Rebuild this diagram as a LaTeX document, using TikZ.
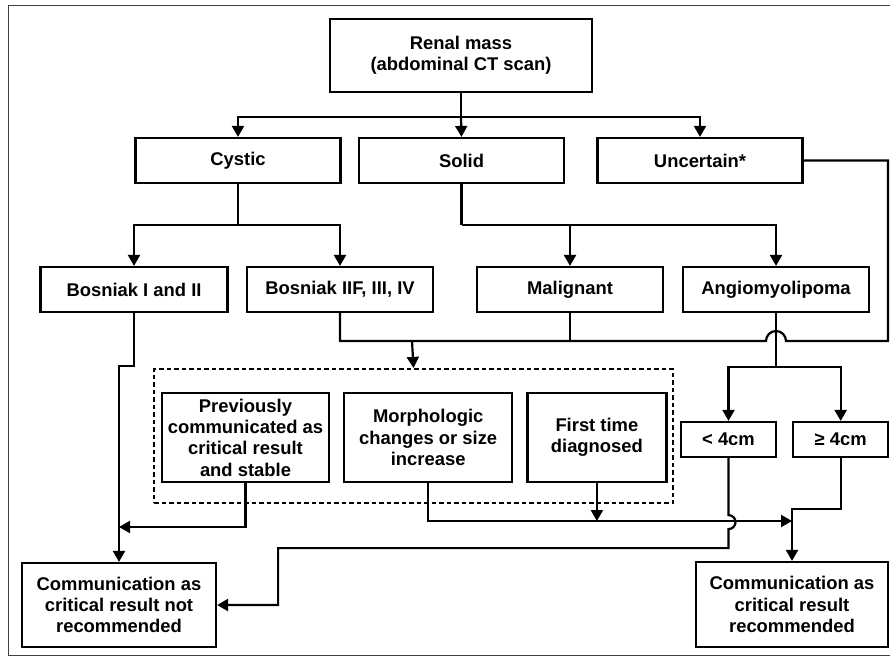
\documentclass[tikz,border=0pt]{standalone}
\usepackage{fontspec}
\setmainfont{Liberation Sans}
\usetikzlibrary{arrows.meta,positioning}

\begin{document}
\begin{tikzpicture}[
  x=1pt, y=-1pt, >={Triangle[length=11pt,width=12pt]},
  line width=2.2pt, node distance=13pt,
  box/.style={draw, line width=2.2pt, align=center, inner sep=2pt,
              font=\fontsize{18.4}{21.3}\selectfont\bfseries},
  grp/.style={draw, line width=2.2pt, dash pattern=on 4.5pt off 3pt}]
\useasboundingbox (0,0) rectangle (890,656);
\draw[line width=1pt, black!75] (890,5) -- (8,5) -- (8,655) -- (890,655);

% top level
\node[box, minimum width=262pt, minimum height=73pt] (renal) at (461,55.5) {Renal mass\\(abdominal CT scan)};
\node[box, minimum width=205pt, minimum height=45pt] (cystic) at (238,160.5) {Cystic};
\node[box, minimum width=205pt, minimum height=45pt] (solid) at (461.5,160.5) {Solid};
\node[box, minimum width=205pt, minimum height=45pt] (uncertain) at (700,160.5) {Uncertain*};

% second level
\node[box, minimum width=187pt, minimum height=45pt] (bos12) at (134,289.5) {Bosniak I and II};
\node[box, minimum width=186pt, minimum height=45pt] (bos3) at (340,289.5) {Bosniak IIF, III, IV};
\node[box, minimum width=186pt, minimum height=45pt] (malig) at (570,289.5) {Malignant};
\node[box, minimum width=186pt, minimum height=45pt] (angio) at (776,289.5) {Angiomyolipoma};

% dashed group
\node[grp, minimum width=519pt, minimum height=134pt] (group) at (413.5,436) {};
\node[box, minimum width=167pt, minimum height=89pt] (prev) at (245.5,437.5) {Previously\\communicated as\\critical result\\and stable};
\node[box, minimum width=168pt, minimum height=89pt, right=of prev] (morph) {Morphologic\\changes or size\\increase};
\node[box, minimum width=139pt, minimum height=89pt, right=of morph] (first) {First time\\diagnosed};

% size
\node[box, minimum width=95pt, minimum height=35pt] (lt4) at (728.5,439.5) {< 4cm};
\node[box, minimum width=95pt, minimum height=35pt, right=15pt of lt4] (ge4) {≥ 4cm};

% outcomes
\node[box, minimum width=194pt, minimum height=84pt] (notrec) at (119,605) {Communication as\\critical result not\\recommended};
\node[box, minimum width=192pt, minimum height=85pt] (rec) at (792,604.5) {Communication as\\critical result\\recommended};

% connectors
\coordinate (split1) at (461,117);
\draw (renal.south) -- (split1);
\draw[->] (split1) -| (cystic.north);
\draw[->] (split1) -- (solid.north);
\draw[->] (split1) -| (uncertain.north);

\draw (cystic.south) -- ++(0,41) coordinate (split2);
\draw[->] (split2) -| (bos12.north);
\draw[->] (split2) -| (bos3.north);

\draw (solid.south) -- ++(0,41) coordinate (split3);
\draw[->] (split3) -| (malig.north);
\draw[->] (split3) -| (angio.north);

\coordinate (merge) at (412,341);
\coordinate (edge) at (888,341);
\draw (uncertain.east) -| (edge) -- (786,341)
  arc[start angle=0, end angle=180, radius=10pt] -- (bos3.south |- merge) -- (bos3.south);
\draw (malig.south) -- (malig.south |- merge);
\draw[->] (merge) -- (group.north);

\draw (angio.south) -- ++(0,54) coordinate (split4);
\draw[->] (split4) -| (lt4.north);
\draw[->] (split4) -| (ge4.north);

\coordinate (join1) at (119,527);
\draw[->] (bos12.south) -- ++(0,53) -| (notrec.north);
\draw[->] (prev.south) |- (join1);

\coordinate (join2) at (792,521);
\draw[->] (morph.south) |- (join2);
\draw[->] (first.south) -- (first.south |- join2);
\draw[->] (ge4.south) -- ++(0,51) -| (rec.north);

\draw[->] (lt4.south) -- ++(0,57) arc[start angle=90, end angle=-90, radius=7pt]
  -- ++(0,19) -| ([xshift=61pt]notrec.east) -- (notrec.east);
\end{tikzpicture}
\end{document}
